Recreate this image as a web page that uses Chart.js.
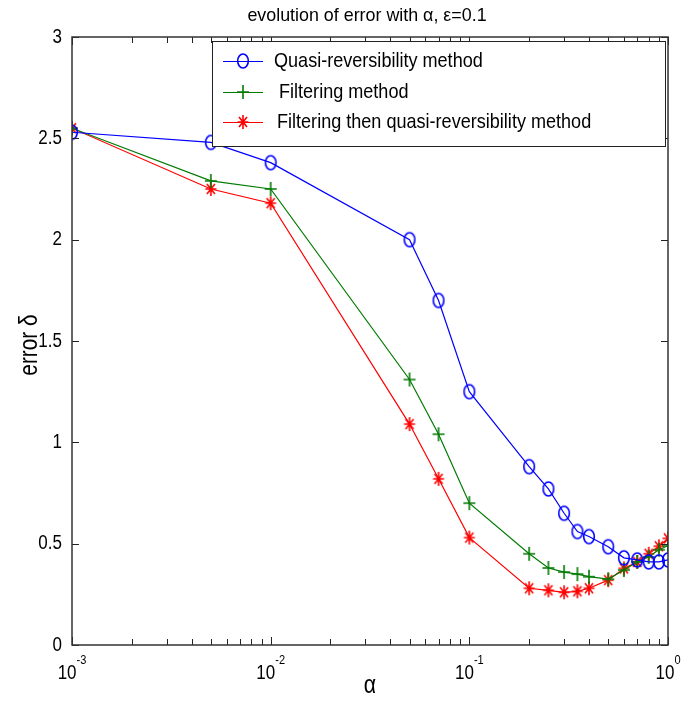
<!DOCTYPE html>
<html>
<head>
<meta charset="utf-8">
<script src="https://cdn.jsdelivr.net/npm/chart.js@4.4.1/dist/chart.umd.min.js"></script>
<style>
  html, body { margin: 0; padding: 0; background: #fff; }
  #wrap { width: 681px; height: 704px; }
</style>
</head>
<body>
<div id="wrap"><canvas id="errChart" width="681" height="704"></canvas></div>
<script>
// data
const alphas = [0.001, 0.005, 0.01, 0.05, 0.07, 0.1, 0.2, 0.25, 0.3, 0.35, 0.4, 0.5, 0.6, 0.7, 0.8, 0.9, 1.0];
const quasiRev = [2.53, 2.48, 2.38, 2.00, 1.70, 1.25, 0.88, 0.77, 0.65, 0.56, 0.535, 0.485, 0.43, 0.42, 0.41, 0.41, 0.42];
const filtering = [2.55, 2.29, 2.25, 1.31, 1.04, 0.70, 0.45, 0.38, 0.36, 0.35, 0.337, 0.325, 0.37, 0.41, 0.435, 0.47, 0.49];
const filterQuasi = [2.55, 2.25, 2.18, 1.09, 0.82, 0.53, 0.28, 0.27, 0.26, 0.265, 0.28, 0.32, 0.378, 0.41, 0.45, 0.487, 0.526];
const seriesNames = ['Quasi-reversibility method', 'Filtering method', 'Filtering then quasi-reversibility method'];
const xTickValues = [0.001, 0.01, 0.1, 1];
const xTickExps = ['-3', '-2', '-1', '0'];
const yTicks = [0, 0.5, 1, 1.5, 2, 2.5, 3];

const SANS = '"Liberation Sans", Arial, sans-serif';

// matlab-ish markers (figure is squeezed horizontally, so circles are ellipses)
function makeMarker(kind, color) {
    const c = document.createElement('canvas');
    c.width = 16; c.height = 18;
    const g = c.getContext('2d');
    g.strokeStyle = color;
    g.lineWidth = 1.6;
    const cx = 8, cy = 9;
    g.beginPath();
    if (kind === 'o') {
        g.ellipse(cx, cy, 5.3, 7, 0, 0, Math.PI * 2);
    } else if (kind === '+') {
        g.moveTo(cx - 6, cy); g.lineTo(cx + 6, cy);
        g.moveTo(cx, cy - 7); g.lineTo(cx, cy + 7);
    } else {
        g.moveTo(cx - 5.5, cy); g.lineTo(cx + 5.5, cy);
        g.moveTo(cx, cy - 7); g.lineTo(cx, cy + 7);
        g.moveTo(cx - 4, cy - 5); g.lineTo(cx + 4, cy + 5);
        g.moveTo(cx - 4, cy + 5); g.lineTo(cx + 4, cy - 5);
    }
    g.stroke();
    return c;
}

// squeezed text, like the narrow helvetica of the figure
function squeezeText(ctx, str, x, y, size, align, sx, baseline) {
    ctx.save();
    ctx.translate(x, y);
    ctx.scale(sx, 1);
    ctx.font = size + 'px ' + SANS;
    ctx.textAlign = align;
    ctx.textBaseline = baseline || 'middle';
    ctx.fillText(str, 0, 0);
    ctx.restore();
}

const colors = ['#0000ff', '#007a00', '#ff0000'];
const markers = [makeMarker('o', colors[0]), makeMarker('+', colors[1]), makeMarker('*', colors[2])];
const series = [quasiRev, filtering, filterQuasi];

const datasets = series.map((vals, i) => ({
    label: seriesNames[i],
    data: alphas.map((a, k) => ({ x: a, y: vals[k] })),
    borderColor: colors[i],
    backgroundColor: colors[i],
    borderWidth: 1.2,
    pointStyle: markers[i],
    pointRadius: 6,
    tension: 0,
    fill: false
}));

const matlabAxes = {
    id: 'matlabAxes',
    afterDraw(chart) {
        const { ctx, chartArea: a, scales: { x, y } } = chart;
        ctx.save();

        // inward ticks
        ctx.strokeStyle = '#222';
        ctx.lineWidth = 1;
        ctx.beginPath();
        yTicks.forEach(v => {
            const py = Math.round(y.getPixelForValue(v)) + 0.5;
            ctx.moveTo(a.left, py); ctx.lineTo(a.left + 7, py);
            ctx.moveTo(a.right, py); ctx.lineTo(a.right - 7, py);
        });
        for (let d = -3; d < 0; d++) {
            for (let k = 1; k <= 10; k++) {
                const v = k * Math.pow(10, d);
                const len = (k === 1 || k === 10) ? 8 : 6;
                const px = Math.round(x.getPixelForValue(v)) + 0.5;
                ctx.moveTo(px, a.bottom); ctx.lineTo(px, a.bottom - len);
                ctx.moveTo(px, a.top); ctx.lineTo(px, a.top + len);
            }
        }
        ctx.stroke();

        // box
        ctx.strokeStyle = '#333';
        ctx.lineWidth = 1.5;
        ctx.strokeRect(a.left, a.top, a.right - a.left, a.bottom - a.top);

        ctx.fillStyle = '#000';

        // y tick labels
        yTicks.forEach(v => {
            squeezeText(ctx, String(v), a.left - 10, y.getPixelForValue(v), 20, 'right', 0.85);
        });

        // x tick labels 10^n
        xTickValues.forEach((v, i) => {
            const px = x.getPixelForValue(v);
            ctx.font = '20px ' + SANS;
            const w1 = ctx.measureText('10').width * 0.85;
            ctx.font = '13px ' + SANS;
            const w2 = ctx.measureText(xTickExps[i]).width * 0.85;
            const left = px - (w1 + w2) / 2;
            squeezeText(ctx, '10', left, 679, 20, 'left', 0.85, 'alphabetic');
            squeezeText(ctx, xTickExps[i], left + w1, 664, 13, 'left', 0.85, 'alphabetic');
        });

        // axis titles
        squeezeText(ctx, '\u03b1', (a.left + a.right) / 2, 693, 25, 'center', 0.85, 'alphabetic');
        ctx.save();
        ctx.translate(37, 345);
        ctx.rotate(-Math.PI / 2);
        ctx.scale(0.8, 1);
        ctx.font = '26px ' + SANS;
        ctx.textAlign = 'center';
        ctx.textBaseline = 'alphabetic';
        ctx.fillText('error \u03b4', 0, 0);
        ctx.restore();

        // title
        squeezeText(ctx, 'evolution of error with \u03b1, \u03b5=0.1', 367, 16, 19, 'center', 0.94);

        // legend box
        const lx = 212, ly = 41, lw = 453, lh = 105;
        ctx.fillStyle = '#fff';
        ctx.fillRect(lx, ly, lw, lh);
        ctx.strokeStyle = '#222';
        ctx.lineWidth = 1;
        ctx.strokeRect(lx + 0.5, ly + 0.5, lw, lh);
        const rows = [61, 92, 122];
        const textX = [274, 279, 277];
        chart.data.datasets.forEach((ds, i) => {
            const ry = rows[i];
            ctx.strokeStyle = ds.borderColor;
            ctx.lineWidth = 1.2;
            ctx.beginPath();
            ctx.moveTo(223, ry + 0.5); ctx.lineTo(263, ry + 0.5);
            ctx.stroke();
            ctx.drawImage(ds.pointStyle, 243 - 8, ry - 9);
            ctx.fillStyle = '#000';
            squeezeText(ctx, ds.label, textX[i], ry, 21, 'left', 0.86);
        });

        ctx.restore();
    }
};

new Chart(document.getElementById('errChart'), {
    type: 'line',
    data: { datasets: datasets },
    options: {
        responsive: false,
        animation: false,
        layout: { padding: { top: 37, right: 13, left: 0, bottom: 0 } },
        plugins: { legend: { display: false }, tooltip: { enabled: false }, title: { display: false } },
        scales: {
            x: {
                type: 'logarithmic',
                min: 0.001,
                max: 1,
                grid: { display: false },
                border: { display: false },
                ticks: { display: false },
                afterFit: s => { s.height = 59; }
            },
            y: {
                min: 0,
                max: 3,
                grid: { display: false, drawTicks: false },
                border: { display: false },
                afterBuildTicks: s => { s.ticks = yTicks.map(v => ({ value: v })); },
                ticks: { display: false },
                afterFit: s => { s.width = 72; }
            }
        }
    },
    plugins: [matlabAxes]
});
</script>
</body>
</html>
